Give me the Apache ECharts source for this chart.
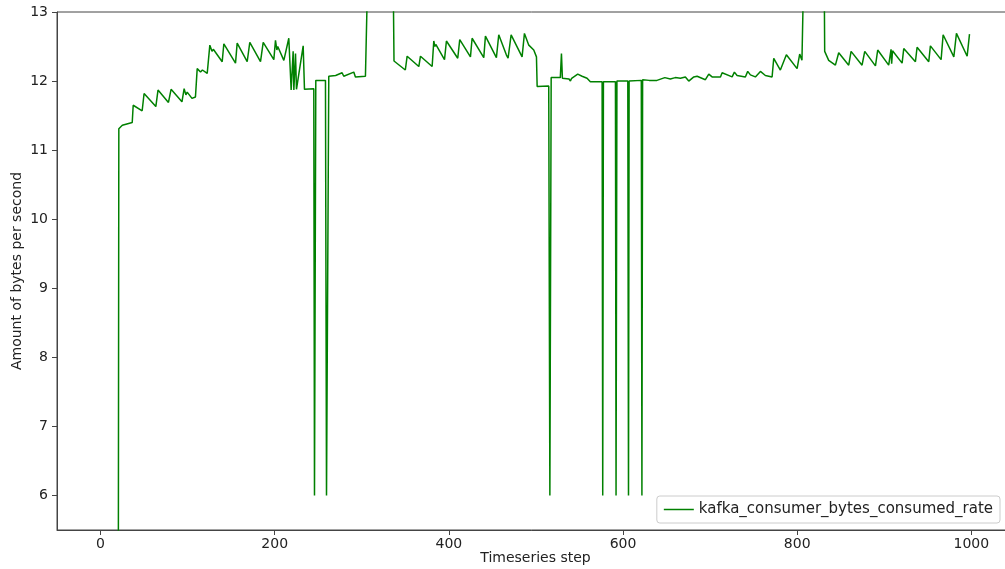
<!DOCTYPE html>
<html style="height: 100%">
    <head>
        <meta charset="utf-8">
        <title>kafka consumer bytes consumed rate</title>
        <script type="text/javascript" src="https://cdn.jsdelivr.net/npm/echarts@6/dist/echarts.min.js"></script>
    </head>
    <body style="margin:0;background:#fff">
        <div id="container" style="width:1005px;height:569px"></div>

        <script type="text/javascript">
        var steps = [
            0, 20, 21, 25, 36.4, 37.5, 47.8, 50, 63.5, 66, 78, 81, 93.5, 96, 98, 99.5, 105, 109,
            111, 114.8, 117, 122.5, 125.5, 128, 129.5, 139.7, 141.6, 155, 156.9, 168.4, 171.4,
            183.7, 186.8, 199, 200.9, 202.5, 203.5, 210.5, 216.2, 218.9, 221.2, 222, 223.9, 225,
            225.8, 232.7, 234.2, 244.9, 245.7, 247.2, 258.3, 259.5, 262.1, 270, 277.4, 279.3,
            290.8, 292.7, 304.2, 306.1, 306.9, 336, 337, 350, 352.1, 365.5, 367.4, 380.8, 382.7,
            384, 385, 395, 397.2, 410.2, 412.5, 424.8, 426.7, 440.1, 442, 454.6, 457.3, 466, 468,
            471.5, 484.1, 486.8, 491.8, 497.5, 500.6, 501.4, 514.7, 516, 517.5, 528, 529.3, 530.4,
            538, 539.6, 541, 548, 553, 558.7, 562.5, 576, 576.7, 577.5, 591.3, 592, 593, 605.5,
            606.3, 607, 621, 621.7, 622.5, 630, 639, 648, 654.3, 660, 665.9, 671.6, 675.5, 681.3,
            685.1, 694.6, 698.5, 702.3, 711.9, 713.8, 725.3, 727.9, 731, 740.5, 743.2, 746.3, 752,
            757.8, 763.5, 771.2, 773.1, 780.7, 787.6, 799.9, 802.9, 805.5, 806.7, 807.5, 831,
            831.6, 836.2, 843.9, 847.7, 859.2, 861.9, 874.5, 877.6, 889.9, 892.5, 905.1, 907.8,
            908.5, 909.5, 920.5, 922.4, 935.8, 937.7, 951.1, 953, 965.3, 967.6, 979.9, 982.9,
            995.2, 997.9
        ];
        var rate = [
            0, 0, 11.31, 11.36, 11.40, 11.65, 11.57, 11.82, 11.63, 11.87, 11.69, 11.88, 11.70, 11.89, 11.80, 11.84, 11.75, 11.77,
            12.18, 12.13, 12.16, 12.11, 12.52, 12.43, 12.46, 12.28, 12.54, 12.26, 12.55, 12.28, 12.56,
            12.28, 12.56, 12.31, 12.59, 12.45, 12.50, 12.30, 12.62, 11.87, 12.43, 11.87, 12.40, 11.88,
            11.89, 12.51, 11.88, 11.89, 6.0, 12.01, 12.01, 6.0, 12.07, 12.08, 12.12, 12.07,
            12.13, 12.06, 12.07, 12.05, 13.6, 13.6, 12.29, 12.16, 12.36, 12.21, 12.36, 12.21, 12.58,
            12.50, 12.53, 12.31, 12.58, 12.33, 12.60, 12.35, 12.62, 12.34, 12.65, 12.34, 12.67, 12.38, 12.33,
            12.67, 12.35, 12.69, 12.52, 12.45, 12.35, 11.92, 11.93, 6.0, 12.05, 12.05, 12.40, 12.04,
            12.03, 12.00, 12.04, 12.10, 12.07, 12.04, 11.99, 11.99, 6.0, 11.99, 11.99, 6.0, 12.00, 12.00,
            6.0, 12.00, 12.01, 6.0, 12.02, 12.01, 12.01, 12.05, 12.03, 12.05, 12.04, 12.06, 12.00, 12.06,
            12.07, 12.02, 12.10, 12.06, 12.06, 12.12, 12.06, 12.13, 12.08, 12.06, 12.14, 12.09, 12.06,
            12.14, 12.08, 12.06, 12.33, 12.16, 12.38, 12.18, 12.39, 12.30, 12.32, 13.6, 13.6,
            12.43, 12.30, 12.23, 12.41, 12.23, 12.43, 12.23, 12.43, 12.22, 12.45, 12.23, 12.46,
            12.25, 12.44, 12.26, 12.47, 12.28, 12.49, 12.28, 12.51, 12.31, 12.67, 12.35, 12.69,
            12.36, 12.68
        ];
        var xTicks = [0, 200, 400, 600, 800, 1000];
        var yTicks = [6, 7, 8, 9, 10, 11, 12, 13];

        var points = steps.map(function (s, i) {
            return [s, rate[i]];
        });

        var chartDom = document.getElementById('container');
        var myChart = echarts.init(chartDom);
        var option;

        var font = 'DejaVu Sans';

        option = {
            animation: false,
            backgroundColor: '#fff',
            grid: {
                left: 57,
                right: -9,
                top: 12,
                bottom: 39,
                outerBoundsMode: 'none',
                containLabel: false,
                show: true,
                borderColor: '#444',
                borderWidth: 1,
                backgroundColor: 'transparent'
            },
            legend: {
                right: 5,
                bottom: 46,
                icon: 'rect',
                itemWidth: 30,
                itemHeight: 1.5,
                itemGap: 8,
                padding: [6, 7, 6, 7],
                borderColor: '#ccc',
                borderWidth: 1,
                borderRadius: 3,
                backgroundColor: '#fff',
                textStyle: {
                    fontFamily: font,
                    fontSize: 15,
                    color: '#222'
                }
            },
            xAxis: {
                type: 'value',
                min: -50,
                max: 1049,
                name: 'Timeseries step',
                nameLocation: 'middle',
                nameGap: 21,
                nameMoveOverlap: false,
                nameTextStyle: { fontFamily: font, fontSize: 14, color: '#222' },
                axisLine: { show: true, onZero: false, lineStyle: { color: '#444' } },
                axisTick: {
                    show: true,
                    length: 5,
                    customValues: xTicks,
                    lineStyle: { color: '#444' }
                },
                axisLabel: {
                    customValues: xTicks,
                    margin: 7,
                    fontFamily: font,
                    fontSize: 14,
                    color: '#222',
                    formatter: function (v) { return String(v); }
                },
                splitLine: { show: false }
            },
            yAxis: {
                type: 'value',
                min: 5.5,
                max: 13,
                name: 'Amount of bytes per second',
                nameLocation: 'middle',
                nameGap: 33,
                nameMoveOverlap: false,
                nameTextStyle: { fontFamily: font, fontSize: 14, color: '#222' },
                axisLine: { show: true, onZero: false, lineStyle: { color: '#444' } },
                axisTick: {
                    show: true,
                    length: 5,
                    customValues: yTicks,
                    lineStyle: { color: '#444' }
                },
                axisLabel: {
                    customValues: yTicks,
                    margin: 9,
                    fontFamily: font,
                    fontSize: 14,
                    color: '#222',
                    formatter: function (v) { return String(v); }
                },
                splitLine: { show: false }
            },
            series: [{
                name: 'kafka_consumer_bytes_consumed_rate',
                type: 'line',
                data: points,
                symbol: 'none',
                clip: true,
                lineStyle: {
                    color: '#008000',
                    width: 1.5
                },
                itemStyle: { color: '#008000' }
            }]
        };

        option && myChart.setOption(option);
        </script>
    </body>
</html>
